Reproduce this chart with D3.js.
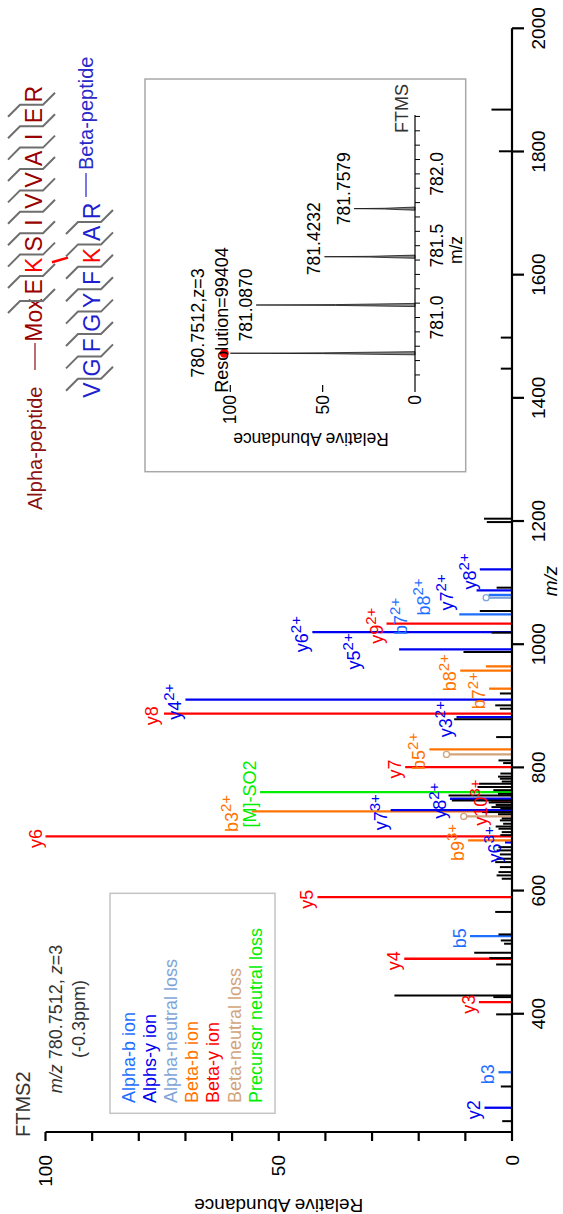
<!DOCTYPE html>
<html>
<head>
<meta charset="utf-8">
<script src="https://cdn.jsdelivr.net/npm/d3@7"></script>
<style>
  html, body { margin: 0; padding: 0; background: #fff; }
  svg { display: block; }
  text { font-family: "Liberation Sans", Arial, Helvetica, sans-serif; }
</style>
</head>
<body>
<script>
// ---------- spectrum data ----------
// annotated fragment peaks
const peakMz = [247.4, 305.0, 418.8, 489.3, 526.0, 589.3, 678.2, 681.4, 687.9, 720.4,
  728.5, 730.5, 746.0, 749.1, 759.9, 800.5, 821.1, 829.2, 881.7, 887.2,
  909.9, 927.8, 957.0, 964.0, 991.6, 1019.7, 1033.3, 1048.4, 1075.5, 1080.0,
  1087.4, 1121.5];
const peakInt = [5.9, 2.9, 7.1, 23.1, 9.0, 41.7, 1.5, 9.4, 100, 9.7,
  55.8, 26.0, 4.5, 13.3, 54.0, 22.9, 13.4, 17.7, 11.9, 74.6,
  70.0, 4.9, 11.1, 5.6, 24.2, 42.8, 26.9, 11.3, 4.9, 5.0,
  7.6, 6.9];
const peakType = ["aY", "aB", "bY", "bY", "aB", "bY", "aY", "bB", "bY", "bNL",
  "bB", "aY", "bY", "aY", "pNL", "bY", "bNL", "bB", "aY", "bY",
  "aY", "bB", "bB", "bB", "aY", "aY", "bY", "aB", "aNL", "aB",
  "aY", "aY"];
const peakLabel = ["y2", "b3", "y3", "y4", "b5", "y5", "y6", "b9", "y6", "",
  "b3", "y7", "y10", "y8", "[M]-SO2", "y7", "", "b5", "y3", "y8",
  "y4", "b7", "b8", "", "y5", "y6", "y9", "b7", "", "b8",
  "y7", "y8"];
const peakCharge = ["", "", "", "", "", "", "3+", "3+", "", "",
  "2+", "3+", "3+", "2+", "", "", "", "2+", "2+", "",
  "2+", "2+", "2+", "", "2+", "2+", "2+", "2+", "", "2+",
  "2+", "2+"];

// unassigned peaks
const otherMz = [225.6, 281.9, 399.0, 427.0, 429.7, 480.0, 490.4, 499.0, 513.7, 519.0,
  528.8, 565.3, 619.2, 624.6, 630.0, 638.1, 646.2, 651.7, 658.7, 665.2,
  670.5, 690.0, 694.9, 700.4, 704.0, 708.5, 713.9, 717.0, 724.0, 727.4,
  733.0, 735.5, 739.0, 743.0, 746.4, 754.5, 757.0, 763.0, 768.0, 773.5,
  777.0, 781.6, 785.0, 790.0, 807.0, 811.3, 849.2, 878.0, 895.3, 900.7,
  920.0, 987.2, 1018.8, 1053.8, 1091.8, 1198.3, 1203.8, 1447.4, 1497.8,
  1800.3, 1868.0];
const otherInt = [2.1, 2.4, 3.4, 4.0, 25.2, 3.4, 4.9, 8.1, 1.7, 2.4,
  2.9, 3.6, 2.2, 3.3, 2.9, 2.6, 3.6, 3.3, 2.6, 3.3,
  2.9, 2.5, 2.2, 2.9, 3.5, 1.9, 2.6, 2.2, 3.0, 6.4,
  2.5, 4.4, 3.5, 5.0, 12.9, 13.6, 3.0, 4.0, 7.4, 7.1,
  2.2, 2.6, 3.0, 2.5, 1.9, 2.9, 3.4, 12.4, 2.6, 3.6,
  2.6, 10.4, 4.4, 6.9, 3.3, 5.4, 6.0, 2.4, 2.4,
  2.8, 4.4];

// axis ticks
const mzTicks = [400, 600, 800, 1000, 1200, 1400, 1600, 1800, 2000];
const intTicks = [0, 10, 20, 30, 40, 50, 60, 70, 80, 90, 100];
const intTickLabels = [0, 50, 100];

// legend
const legendNames = ["Alpha-b ion", "Alphs-y ion", "Alpha-neutral loss", "Beta-b ion",
  "Beta-y ion", "Beta-neutral loss", "Precursor neutral loss"];
const legendKeys = ["aB", "aY", "aNL", "bB", "bY", "bNL", "pNL"];

// precursor isotope cluster (inset)
const isoMz = [780.7512, 781.0870, 781.4232, 781.7579];
const isoInt = [100, 86, 49, 33];
const isoLabels = ["", "781.0870", "781.4232", "781.7579"];
const isoTicks = [781.0, 781.5, 782.0];
const isoIntTicks = [0, 50, 100];

// peptide sequences
const alphaSeq = ["Mox", "E", "K", "S", "I", "V", "V", "A", "I", "E", "R"];
const betaSeq = ["V", "G", "F", "G", "Y", "F", "K", "A", "R"];
const alphaLinkIndex = 2;
const betaLinkIndex = 6;

// ---------- styling ----------
const colors = {
  aB: "#1f6fff", aY: "#0000f0", aNL: "#7fa5d8",
  bB: "#ff7300", bY: "#ff0000", bNL: "#d2a47c", pNL: "#00ee00", none: "#000"
};
const LABEL_FS = 18, SUP_FS = 15;

// ---------- layout (drawn landscape, turned a quarter-turn) ----------
const W = 1214, H = 563;
const svg = d3.select("body").append("svg")
  .attr("width", H).attr("height", W);
const g = svg.append("g").attr("transform", `translate(0,${W}) rotate(-90)`);

const x = d3.scaleLinear().domain([208, 2000]).range([82, 1185.7]);
const y = d3.scaleLinear().domain([0, 100]).range([512, 45.5]);

// annotated peaks (drawn first, unassigned peaks on top)
const peaks = peakMz.map((m, i) => ({ m, v: peakInt[i], t: peakType[i], lab: peakLabel[i], z: peakCharge[i] }));
const pg = g.append("g");
pg.selectAll("line").data(peaks).join("line")
  .attr("x1", d => x(d.m)).attr("x2", d => x(d.m))
  .attr("y1", y(0)).attr("y2", d => y(d.v))
  .attr("stroke", d => colors[d.t]).attr("stroke-width", 2.3);

// unassigned peaks
g.append("g").selectAll("line").data(otherMz.map((m, i) => ({ m, v: otherInt[i] })))
  .join("line")
  .attr("x1", d => x(d.m)).attr("x2", d => x(d.m))
  .attr("y1", y(0)).attr("y2", d => y(d.v))
  .attr("stroke", "#000").attr("stroke-width", 2);

// neutral-loss markers
pg.selectAll("circle").data(peaks.filter(d => d.t === "aNL" || d.t === "bNL")).join("circle")
  .attr("cx", d => x(d.m)).attr("cy", d => y(d.v) - 3)
  .attr("r", 3).attr("fill", "#fff")
  .attr("stroke", d => colors[d.t]).attr("stroke-width", 1.3);

// peak labels, placed from high m/z down, lifted when they would collide
const lg = g.append("g");
const placed = [];
peaks.filter(d => d.lab).sort((a, b) => b.m - a.m).forEach(d => {
  const t = lg.append("text").attr("font-size", LABEL_FS).attr("fill", colors[d.t]);
  t.append("tspan").text(d.lab);
  if (d.z) t.append("tspan").attr("dy", -7).attr("font-size", SUP_FS).text(d.z);
  const w = t.node().getComputedTextLength();
  const x0 = x(d.m) - w / 2 - 2;
  let base = y(d.v) - 4;
  const topOff = d.z ? 19 : 14;
  let moved = true;
  while (moved) {
    moved = false;
    for (const p of placed) {
      const top = base - topOff, bot = base + 3;
      if (x0 + 2 < p.x1 && x0 + w - 2 > p.x0 && top < p.bot && bot > p.top) {
        base = p.top - 4;
        moved = true;
      }
    }
  }
  t.attr("x", x0).attr("y", base);
  placed.push({ x0, x1: x0 + w, top: base - topOff, bot: base + 3 });
});

// m/z axis
const axg = g.append("g");
axg.append("line").attr("x1", x.range()[0]).attr("x2", x.range()[1])
  .attr("y1", y(0)).attr("y2", y(0)).attr("stroke", "#000").attr("stroke-width", 2.2);
axg.selectAll(".t").data(mzTicks).join("line")
  .attr("x1", d => x(d)).attr("x2", d => x(d))
  .attr("y1", y(0)).attr("y2", y(0) + 12)
  .attr("stroke", "#000").attr("stroke-width", 2.2);
axg.selectAll("text").data(mzTicks).join("text")
  .attr("x", d => x(d)).attr("y", y(0) + 33)
  .attr("text-anchor", "middle").attr("font-size", 19).text(d => d);
g.append("text").attr("x", 633).attr("y", 557).attr("text-anchor", "middle")
  .attr("font-size", 19).attr("font-style", "italic").text("m/z");

// intensity axis
const ayg = g.append("g");
ayg.append("line").attr("x1", x.range()[0]).attr("x2", x.range()[0])
  .attr("y1", y(0)).attr("y2", y(100)).attr("stroke", "#000").attr("stroke-width", 2.2);
ayg.selectAll("line.t").data(intTicks).join("line")
  .attr("x1", x.range()[0] - 9).attr("x2", x.range()[0])
  .attr("y1", d => y(d)).attr("y2", d => y(d))
  .attr("stroke", "#000").attr("stroke-width", 2.2);
ayg.selectAll("text").data(intTickLabels).join("text")
  .attr("x", 59).attr("y", d => y(d)).attr("dy", "0.35em")
  .attr("text-anchor", "end").attr("font-size", 19).text(d => d);
g.append("text").attr("transform", `translate(15.5,${(y(0) + y(100)) / 2}) rotate(-90)`)
  .attr("text-anchor", "middle").attr("font-size", 19).text("Relative Abundance");

// scan header
g.append("text").attr("x", 77).attr("y", 30).attr("font-size", 20).attr("fill", "#333").text("FTMS2");
const hdr = g.append("text").attr("x", 195).attr("y", 62).attr("text-anchor", "middle")
  .attr("font-size", 18).attr("fill", "#333");
hdr.append("tspan").attr("font-style", "italic").text("m/z");
hdr.append("tspan").text(" 780.7512,  ");
hdr.append("tspan").attr("font-style", "italic").text("z");
hdr.append("tspan").text("=3");
g.append("text").attr("x", 195).attr("y", 85).attr("text-anchor", "middle")
  .attr("font-size", 18).attr("fill", "#333").text("(-0.3ppm)");

// legend
g.append("rect").attr("x", 100.7).attr("y", 110).attr("width", 220).attr("height", 165)
  .attr("fill", "#fff").attr("stroke", "#c4c4c4").attr("stroke-width", 1.5);
g.append("g").selectAll("text").data(legendNames).join("text")
  .attr("x", 111).attr("y", (d, i) => 135 + i * 21.1)
  .attr("font-size", 18).attr("fill", (d, i) => colors[legendKeys[i]]).text(d => d);

// ---------- inset: precursor isotope envelope ----------
const ix = d3.scaleLinear().domain([780.53, 782.41]).range([829, 1099]);
const iy = d3.scaleLinear().domain([0, 100]).range([415, 230.3]);
const ins = g.append("g");
ins.append("rect").attr("x", 742.3).attr("y", 145).attr("width", 392.7).attr("height", 320.7)
  .attr("fill", "#fff").attr("stroke", "#a8a8a8").attr("stroke-width", 1.5);
const iso = isoMz.map((m, i) => ({ m, v: isoInt[i], t: isoLabels[i] }));
ins.selectAll("path.pk").data(iso).join("path")
  .attr("d", d => `M${ix(d.m) - 1.6},${iy(0)} L${ix(d.m) - 0.4},${iy(d.v * 0.5)} L${ix(d.m)},${iy(d.v)} L${ix(d.m) + 0.4},${iy(d.v * 0.5)} L${ix(d.m) + 1.6},${iy(0)} Z`)
  .attr("fill", "#888").attr("stroke", "#000").attr("stroke-width", 0.7);
ins.append("circle").attr("cx", ix(isoMz[0])).attr("cy", iy(isoInt[0]) - 6).attr("r", 4.5).attr("fill", "#f00");
const isoShift = [0, 0, 18, 20];
ins.selectAll("text.pl").data(iso.filter(d => d.t)).join("text")
  .attr("x", d => ix(d.m) + isoShift[isoMz.indexOf(d.m)]).attr("y", d => iy(d.v) - 4)
  .attr("text-anchor", "middle").attr("font-size", 17.5).text(d => d.t);
ins.append("line").attr("x1", ix.range()[0]).attr("x2", ix.range()[1])
  .attr("y1", iy(0)).attr("y2", iy(0)).attr("stroke", "#000").attr("stroke-width", 1.2);
ins.selectAll("line.mt").data(d3.range(7806, 7825).map(v => v / 10)).join("line")
  .attr("x1", d => ix(d)).attr("x2", d => ix(d))
  .attr("y1", iy(0)).attr("y2", iy(0) + 5).attr("stroke", "#000").attr("stroke-width", 1);
ins.selectAll("text.mt").data(isoTicks).join("text")
  .attr("x", d => ix(d)).attr("y", iy(0) + 28).attr("text-anchor", "middle")
  .attr("font-size", 17.5).text(d => d.toFixed(1));
ins.append("text").attr("x", ix(781.47)).attr("y", iy(0) + 47).attr("text-anchor", "middle")
  .attr("font-size", 17.5).text("m/z");
ins.selectAll("line.it").data(isoIntTicks).join("line")
  .attr("x1", ix.range()[0] - 7).attr("x2", ix.range()[0])
  .attr("y1", d => iy(d)).attr("y2", d => iy(d)).attr("stroke", "#000").attr("stroke-width", 1.2);
ins.selectAll("text.it").data(isoIntTicks).join("text")
  .attr("x", ix.range()[0] - 10).attr("y", d => iy(d)).attr("dy", "0.35em")
  .attr("text-anchor", "end").attr("font-size", 17.5).text(d => d);
ins.append("text").attr("transform", `translate(781,311) rotate(-90)`)
  .attr("text-anchor", "middle").attr("font-size", 17.5).text("Relative Abundance");
ins.append("text").attr("x", 891).attr("y", 204).attr("text-anchor", "middle")
  .attr("font-size", 18).text("780.7512,z=3");
ins.append("text").attr("x", 894).attr("y", 228).attr("text-anchor", "middle")
  .attr("font-size", 18).text("Resolution=99404");
ins.append("text").attr("x", 1081).attr("y", 408).attr("font-size", 18).attr("fill", "#333").text("FTMS");

// ---------- peptide sequence map ----------
const seqG = g.append("g");
const aStart = 894, aPitch = 21.4;
const aPos = alphaSeq.map((s, i) => i === 0 ? aStart : aStart + 33.3 + (i - 1) * aPitch);
seqG.append("text").attr("x", 704).attr("y", 42).attr("font-size", 20).attr("fill", "#8b1010").text("Alpha-peptide");
seqG.append("line").attr("x1", 844).attr("x2", 871).attr("y1", 35).attr("y2", 35).attr("stroke", "#8b1010").attr("stroke-width", 1.2);
seqG.selectAll("text.a").data(alphaSeq).join("text")
  .attr("x", (d, i) => aPos[i]).attr("y", 42).attr("text-anchor", "middle")
  .attr("font-size", 23).attr("fill", (d, i) => i === alphaLinkIndex ? "#ff0000" : "#990000").text(d => d);
const bStart = 824, bPitch = 22.4;
const bPos = betaSeq.map((s, i) => bStart + i * bPitch);
seqG.selectAll("text.b").data(betaSeq).join("text")
  .attr("x", (d, i) => bPos[i]).attr("y", 100).attr("text-anchor", "middle")
  .attr("font-size", 23).attr("fill", (d, i) => i === betaLinkIndex ? "#ff0000" : "#1f1fd0").text(d => d);
seqG.append("line").attr("x1", 1017).attr("x2", 1041).attr("y1", 86).attr("y2", 86).attr("stroke", "#1f1fd0").attr("stroke-width", 1.2);
seqG.append("text").attr("x", 1044).attr("y", 93).attr("font-size", 20).attr("fill", "#2a2ac8").text("Beta-peptide");
// cleavage marks between residues
function marks(pos, top, bottom, firstEdge) {
  const b = [];
  for (let i = 0; i < pos.length - 1; i++) {
    const xm = (i === 0 && firstEdge) ? firstEdge : (pos[i] + pos[i + 1]) / 2;
    b.push(`M${xm - 12},${top - 12} L${xm},${top} L${xm},${bottom} L${xm + 12},${bottom + 12}`);
  }
  return b;
}
seqG.selectAll("path.am").data(marks(aPos, 20, 43, aPos[0] + 19)).join("path").attr("d", d => d)
  .attr("fill", "none").attr("stroke", "#6e6e6e").attr("stroke-width", 2);
seqG.selectAll("path.bm").data(marks(bPos, 78, 101)).join("path").attr("d", d => d)
  .attr("fill", "none").attr("stroke", "#6e6e6e").attr("stroke-width", 2);
// cross-link
seqG.append("line").attr("x1", aPos[alphaLinkIndex] + 3).attr("x2", bPos[betaLinkIndex] - 2)
  .attr("y1", 52).attr("y2", 68).attr("stroke", "#ff0000").attr("stroke-width", 2.5);
</script>
</body>
</html>
